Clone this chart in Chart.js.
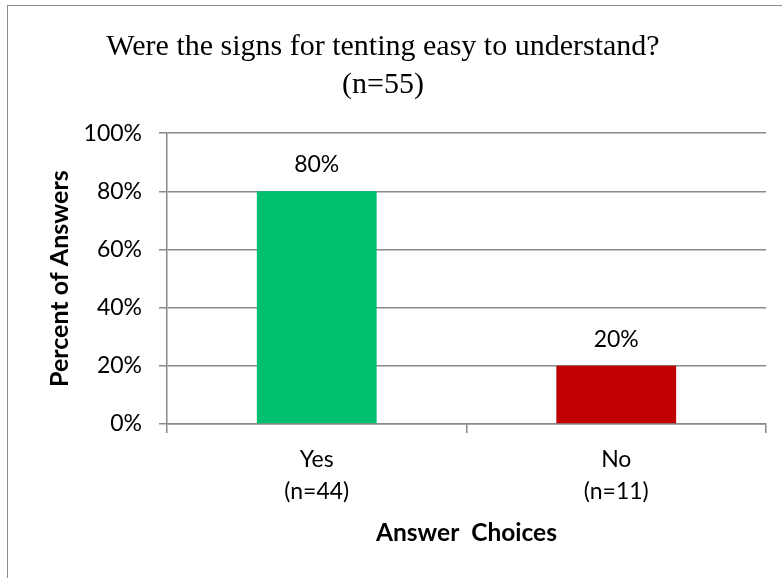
<!DOCTYPE html>
<html>
<head>
<meta charset="utf-8">
<script src="https://cdn.jsdelivr.net/npm/chart.js@4"></script>
<style>
  html, body { margin: 0; padding: 0; background: #fff; overflow: hidden; }
  .frame { position: absolute; left: 7px; top: 5px; width: 1000px; height: 1000px; border: 1px solid #8c8c8c; }
  .canvas-box { position: absolute; left: 0; top: 0; width: 782px; height: 578px; }
</style>
</head>
<body>
<div class="frame"></div>
<div class="canvas-box">
  <canvas id="answerChart" width="782" height="578"></canvas>
</div>
<script>
const categories = [['Yes', '(n=44)'], ['No', '(n=11)']];
const percentValues = [80, 20];
const barColors = ['#00bf6f', '#c00000'];
const yTickStep = 20;
const yMax = 100;

const axisGray = '#898989';

// draws the "80%" style labels above each bar
const barValueLabels = {
  id: 'barValueLabels',
  afterDatasetsDraw(chart) {
    const ctx = chart.ctx;
    const meta = chart.getDatasetMeta(0);
    ctx.save();
    ctx.font = '23px Lato';
    ctx.fillStyle = '#000';
    ctx.textAlign = 'center';
    ctx.textBaseline = 'alphabetic';
    meta.data.forEach((bar, i) => {
      ctx.fillText(percentValues[i] + '%', bar.x, bar.y - 19);
    });
    ctx.restore();
  }
};

Chart.defaults.font.family = 'Lato';
Chart.defaults.color = '#000';

const ctx = document.getElementById('answerChart').getContext('2d');
new Chart(ctx, {
  type: 'bar',
  data: {
    labels: categories,
    datasets: [{
      label: 'Percent of Answers',
      data: percentValues,
      backgroundColor: barColors,
      borderWidth: 0,
      categoryPercentage: 0.4,
      barPercentage: 1
    }]
  },
  options: {
    responsive: false,
    animation: false,
    devicePixelRatio: 1,
    layout: { padding: { left: 0, right: 16, top: 0, bottom: 0 } },
    plugins: {
      legend: { display: false },
      tooltip: { enabled: false },
      title: {
        display: true,
        text: ['Were the signs for tenting easy to understand?', '(n=55)'],
        font: { family: 'Liberation Serif', size: 30, weight: 'normal', lineHeight: 1.27 },
        color: '#000',
        padding: { top: 28, bottom: 29 }
      }
    },
    scales: {
      x: {
        afterFit(scale) { scale.height = 154; },
        grid: {
          offset: true,
          drawOnChartArea: false,
          drawTicks: true,
          tickLength: 9,
          color: axisGray,
          lineWidth: 1.5
        },
        border: { color: axisGray, width: 1.5 },
        ticks: {
          font: { size: 23, lineHeight: 1.39 },
          padding: 11,
          maxRotation: 0
        },
        title: {
          display: true,
          text: 'Answer  Choices',
          font: { size: 24.5, weight: 'bold', lineHeight: 1.2 },
          padding: { top: 0, bottom: 30 }
        }
      },
      y: {
        min: 0,
        max: yMax,
        afterFit(scale) { scale.width = 167; },
        grid: {
          color: axisGray,
          lineWidth: 1.5,
          drawTicks: true,
          tickLength: 8
        },
        border: { color: axisGray, width: 1.5 },
        ticks: {
          stepSize: yTickStep,
          font: { size: 23 },
          padding: 17,
          callback: v => v + '%'
        },
        title: {
          display: true,
          text: 'Percent of Answers',
          font: { size: 25, weight: 'bold', lineHeight: 1.2 },
          padding: { top: 45, bottom: 0 }
        }
      }
    }
  },
  plugins: [barValueLabels]
});
</script>
</body>
</html>
